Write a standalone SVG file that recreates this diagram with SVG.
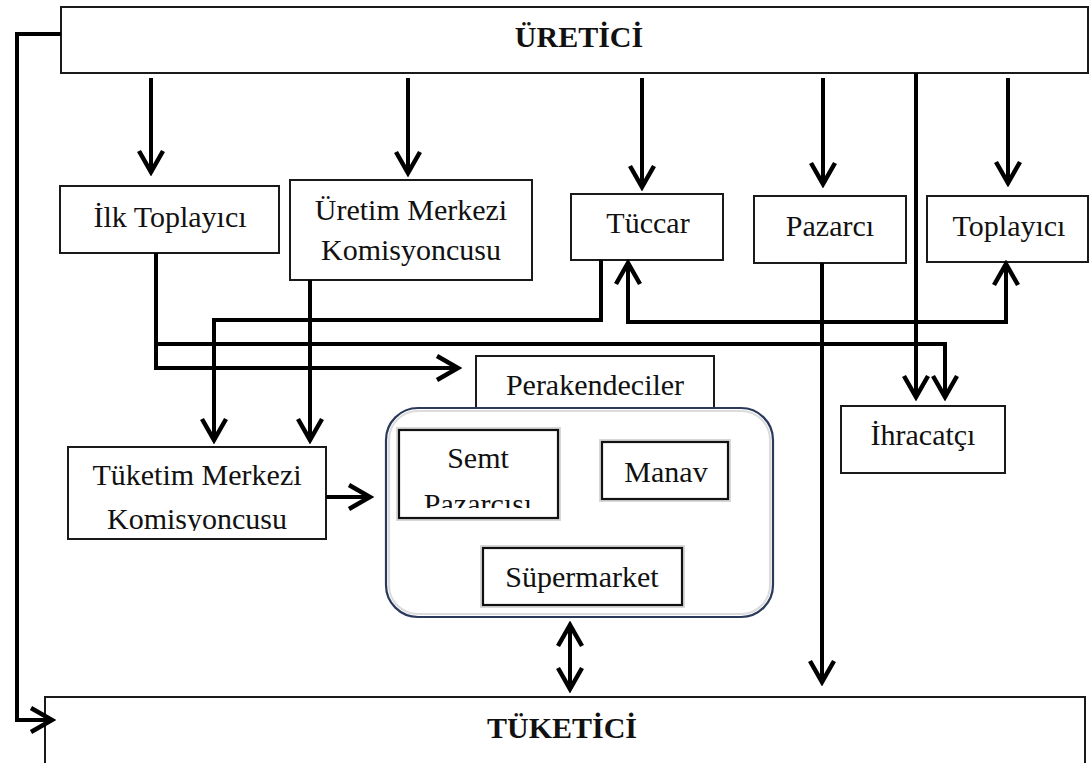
<svg xmlns="http://www.w3.org/2000/svg" width="1090" height="763" viewBox="0 0 1090 763">
<style>
.box{fill:#fff;stroke:#1a1a1a;stroke-width:2}
.in{fill:#fff;stroke:#111;stroke-width:2.2}
.glow{fill:none;stroke:#d8d8d8;stroke-width:6}
.t{font-family:"Liberation Serif","Times New Roman",serif;font-size:30px;fill:#111;text-anchor:middle}
.b{font-weight:bold;font-size:30px}
.c{fill:none;stroke:#000;stroke-width:4}
</style>
<defs>
<marker id="ah" markerUnits="userSpaceOnUse" viewBox="-26 -16 30 32" markerWidth="30" markerHeight="32" refX="0" refY="0" orient="auto-start-reverse">
<path d="M-21,-12 L0,0 L-21,12" fill="none" stroke="#000" stroke-width="4.5" stroke-linejoin="miter"/>
</marker>
<clipPath id="cTk"><rect x="68" y="447" width="258" height="84"/></clipPath>
<clipPath id="cSp"><rect x="399" y="430" width="159" height="78"/></clipPath>
</defs>

<g id="uretici"><rect class="box" x="61" y="7" width="1027" height="66"/><text class="t b" x="579" y="47">ÜRETİCİ</text></g>
<g id="ilk-toplayici"><rect class="box" x="60" y="186" width="219" height="67"/><text class="t" x="170" y="227">İlk Toplayıcı</text></g>
<g id="uretim-merkezi"><rect class="box" x="290" y="180" width="242" height="100"/><text class="t" x="411" y="220">Üretim Merkezi</text><text class="t" x="411" y="260">Komisyoncusu</text></g>
<g id="tuccar"><rect class="box" x="571" y="194" width="152" height="66"/><text class="t" x="648" y="233">Tüccar</text></g>
<g id="pazarci"><rect class="box" x="754" y="196" width="152" height="67"/><text class="t" x="830" y="236">Pazarcı</text></g>
<g id="toplayici"><rect class="box" x="927" y="196" width="161" height="66"/><text class="t" x="1009" y="236">Toplayıcı</text></g>
<g id="ihracatci"><rect class="box" x="841" y="406" width="164" height="67"/><text class="t" x="923" y="445">İhracatçı</text></g>
<g id="tuketim-merkezi"><rect class="box" x="68" y="447" width="258" height="92"/><text class="t" x="197" y="485">Tüketim Merkezi</text><text class="t" x="197" y="529" clip-path="url(#cTk)">Komisyoncusu</text></g>
<g id="perakendeciler"><rect class="box" x="476" y="356" width="238" height="54"/><text class="t" x="595" y="395">Perakendeciler</text></g>
<g id="perakende-grup">
<rect x="386" y="408" width="387" height="209" rx="32" fill="#fff" stroke="#2b3a5a" stroke-width="2.2"/>
<rect x="389" y="411" width="381" height="203" rx="29" fill="none" stroke="#dcdcdc" stroke-width="2"/>
</g>
<g id="semt-pazarcisi"><rect class="glow" x="399" y="430" width="159" height="88"/><rect class="in" x="399" y="430" width="159" height="88"/><text class="t" x="478" y="468">Semt</text><text class="t" x="478" y="514" clip-path="url(#cSp)">Pazarcısı</text></g>
<g id="manav"><rect class="glow" x="602" y="442" width="126" height="57"/><rect class="in" x="602" y="442" width="126" height="57"/><text class="t" x="666" y="482">Manav</text></g>
<g id="supermarket"><rect class="glow" x="483" y="548" width="199" height="57"/><rect class="in" x="483" y="548" width="199" height="57"/><text class="t" x="582" y="587">Süpermarket</text></g>
<g id="tuketici"><rect class="box" x="45" y="697" width="1040" height="70"/><text class="t b" x="562" y="738">TÜKETİCİ</text></g>

<g id="connectors">
<path class="c" d="M61,34 H17 V720 H52" marker-end="url(#ah)"/>
<path class="c" d="M151,78 V172" marker-end="url(#ah)"/>
<path class="c" d="M408,78 V173" marker-end="url(#ah)"/>
<path class="c" d="M642,78 V187" marker-end="url(#ah)"/>
<path class="c" d="M823,78 V184" marker-end="url(#ah)"/>
<path class="c" d="M916,73 V397" marker-end="url(#ah)"/>
<path class="c" d="M1008,78 V183" marker-end="url(#ah)"/>
<path class="c" d="M156,253 V368 H458" marker-end="url(#ah)"/>
<path class="c" d="M156,344 H945 V397" marker-end="url(#ah)"/>
<path class="c" d="M310,280 V440" marker-end="url(#ah)"/>
<path class="c" d="M601,260 V320 H214 V440" marker-end="url(#ah)"/>
<path class="c" d="M628,263 V322 H1006 V264" marker-start="url(#ah)" marker-end="url(#ah)"/>
<path class="c" d="M822,263 V682" marker-end="url(#ah)"/>
<path class="c" d="M326,497 H370" marker-end="url(#ah)"/>
<path class="c" d="M570,625 V689" marker-start="url(#ah)" marker-end="url(#ah)"/>
</g>
</svg>
